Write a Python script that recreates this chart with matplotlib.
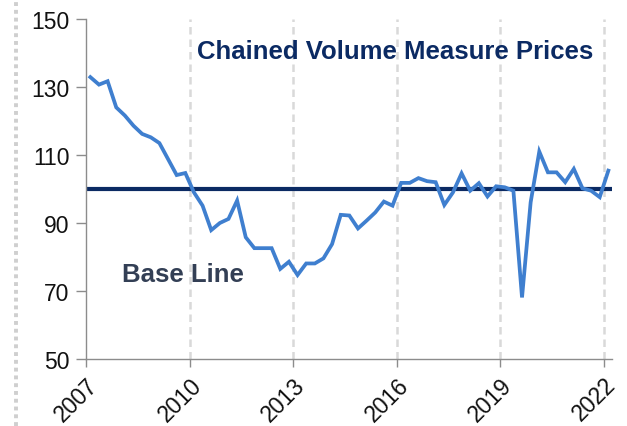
import numpy as np
import matplotlib.pyplot as plt
from matplotlib.lines import Line2D

# quarterly series, 2007 Q1 .. 2022 Q1
first_year = 2007
prices = [132.9, 130.7, 131.7, 124.0, 121.6, 118.6, 116.2, 115.2, 113.5, 108.8,
          104.1, 104.7, 99.0, 95.1, 87.9, 90.0, 91.2, 96.6, 85.8, 82.6,
          82.6, 82.6, 76.5, 78.6, 74.7, 78.1, 78.1, 79.6, 83.8, 92.4,
          92.2, 88.4, 90.7, 93.1, 96.3, 95.1, 101.8, 101.8, 103.2, 102.3,
          102.0, 95.3, 99.0, 104.6, 99.5, 101.7, 97.8, 100.8, 100.5, 99.5,
          68.1, 96.1, 111.0, 104.9, 104.9, 102.0, 105.9, 100.2, 99.5, 97.6,
          105.4]
base_line = 100
year_ticks = [2007, 2010, 2013, 2016, 2019, 2022]
y_ticks = [50, 70, 90, 110, 130, 150]

# mid-quarter positions on a year axis
x = first_year + 0.125 + 0.25 * np.arange(len(prices))

plt.rcParams["font.family"] = ["Liberation Sans", "DejaVu Sans"]

fig = plt.figure(figsize=(6.27, 4.27), dpi=100)
ax = fig.add_axes([0.1372, 0.1569, 0.9766 - 0.1372, 0.9532 - 0.1569])

# vertical dashed grid
for yr in year_ticks[1:]:
    ax.axvline(yr, color="#d9d9d9", linestyle=(0, (3, 2)), linewidth=1.8, zorder=0)

ax.axhline(base_line, color="#0b2a63", linewidth=3.0, zorder=2)
ax.plot(x, prices, color="#3f7fcf", linewidth=2.7, zorder=3,
        solid_joinstyle="miter")

ax.set_xlim(2007, 2022.24)
ax.set_ylim(50, 150)
ax.set_xticks(year_ticks)
ax.set_xticklabels([str(y) for y in year_ticks], rotation=45, ha="right",
                   rotation_mode="anchor", fontsize=16.5, color="#111111")
ax.set_yticks(y_ticks)
ax.set_yticklabels([str(v) for v in y_ticks], fontsize=16.5, color="#111111")

for side in ["top", "right"]:
    ax.spines[side].set_visible(False)
for side in ["left", "bottom"]:
    ax.spines[side].set_color("#8c8c8c")
    ax.spines[side].set_linewidth(1.0)
ax.tick_params(axis="y", length=7, width=1, color="#8c8c8c", pad=5)
ax.tick_params(axis="x", length=6, width=1, color="#8c8c8c", pad=4)

ax.text(0.5 * (194 + 597) / 627, 1 - 52 / 427, "Chained Volume Measure Prices",
        transform=fig.transFigure, ha="center", va="center",
        fontsize=18.5, fontweight="bold", color="#0b2a63")
ax.text(0.5 * (122 + 243) / 627, 1 - 275 / 427, "Base Line",
        transform=fig.transFigure, ha="center", va="center",
        fontsize=18.5, fontweight="bold", color="#333f55")

# dotted border on the left of the figure
fig.add_artist(Line2D([16 / 627, 16 / 627], [0, 1], transform=fig.transFigure,
                      color="#cfcfcf", linestyle=(0, (1, 1)), linewidth=2.8))

fig.savefig("out.png", dpi=100)
